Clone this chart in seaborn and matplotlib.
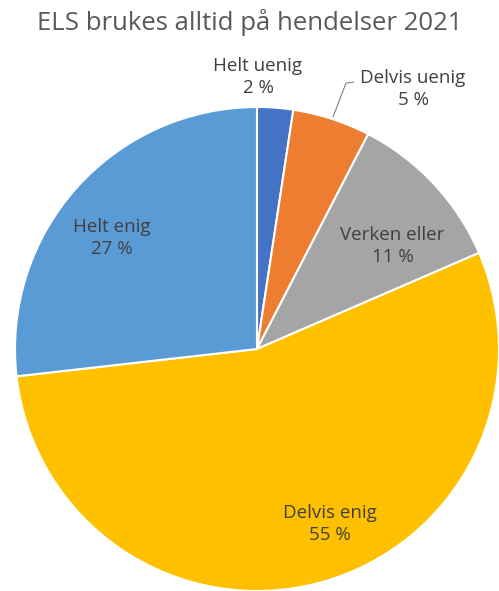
import matplotlib.pyplot as plt
import numpy as np
import seaborn as sns

# ELS survey answers, share in percent (order clockwise from 12 o'clock)
categories = ["Helt uenig", "Delvis uenig", "Verken eller", "Delvis enig", "Helt enig"]
shares = [2.4, 5.2, 10.9, 54.7, 26.8]
colors = ["#4472C4", "#ED7D31", "#A5A5A5", "#FFC000", "#5B9BD5"]
title = "ELS brukes alltid på hendelser 2021"

# where each data label sits (data coords, pie radius = 1)
label_pos = [(0.004, 1.125), (0.645, 1.075), (0.56, 0.425), (0.30, -0.725), (-0.60, 0.46)]

sns.set_theme(style="white")
plt.rcParams["font.family"] = ["Open Sans", "DejaVu Sans"]

fig = plt.figure(figsize=(4.99, 5.91), dpi=100)
ax = fig.add_axes([15 / 499, 0.0, 484 / 499, 484 / 591])

wedges, _ = ax.pie(
    shares,
    colors=colors,
    startangle=90,
    counterclock=False,
    radius=1.0,
    wedgeprops=dict(edgecolor="white", linewidth=1.5),
)
ax.set_xlim(-1, 1)
ax.set_ylim(-1, 1)
ax.set_aspect("equal")
ax.axis("off")

for cat, val, (x, y) in zip(categories, shares, label_pos):
    ax.text(x, y, "{}\n{:.0f} %".format(cat, val), ha="center", va="center",
            fontsize=13.5, color="#404040", linespacing=1.28, clip_on=False)

# leader line for the small "Delvis uenig" slice
ax.plot([0.314, 0.368, 0.40], [0.959, 1.099, 1.103], color="#7f7f7f",
        lw=0.8, clip_on=False)

fig.text(0.5, 1 - 23 / 591, title, ha="center", va="center", fontsize=18.5,
         color="#595959")

fig.savefig("out.png", dpi=100)
